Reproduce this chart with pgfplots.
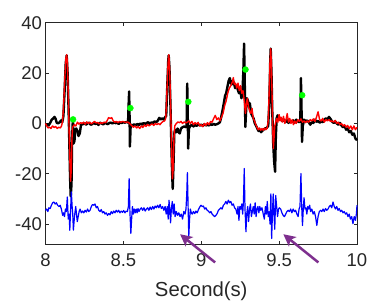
\documentclass[border=0pt]{standalone}
\usepackage{fontspec}
\setmainfont{Liberation Sans}
\usepackage{pgfplots}
\pgfplotsset{compat=1.18}
\usetikzlibrary{arrows.meta}
\definecolor{mpurple}{RGB}{126,47,142}
\definecolor{axgray}{RGB}{38,38,38}
\begin{document}
\begin{tikzpicture}
\begin{axis}[
 scale only axis, width=311.5pt, height=221.6pt,
 xmin=8, xmax=10, ymin=-48, ymax=40,
 xtick={8,8.5,9,9.5,10}, ytick={-40,-20,0,20,40},
 tick align=inside, major tick length=3pt,
 axis line style={axgray, line width=0.6pt},
 tick style={axgray, line width=0.6pt},
 ticklabel style={font=\fontsize{18.5}{20}\selectfont, text=axgray},
 /pgf/number format/assume math mode=true,
 xticklabel style={yshift=-6pt},
 xlabel={Second(s)},
 xlabel style={font=\fontsize{20.3}{22}\selectfont, text=axgray, at={(axis description cs:0.5,0)}, anchor=base, yshift=-52.4pt},
 clip=false,
 every axis plot/.append style={line join=round},
]
\addplot[black, line width=2.4pt, mark=none] coordinates {
(8.000,-0.5) (8.010,-0.3) (8.020,-0.8) (8.030,0.2) (8.040,1.5) (8.050,2.0) (8.058,2.6) (8.065,1.8) (8.072,0.3) (8.080,0.0) (8.090,0.4) (8.100,1.2) (8.108,0.5)
(8.115,3) (8.122,12) (8.130,24) (8.136,27) (8.142,20) (8.148,6) (8.153,-8) (8.158,-22) (8.162,-29) (8.167,-24) (8.171,-6) (8.175,0.5) (8.178,0) (8.180,-8) (8.186,-7) (8.190,-3) (8.197,-2) (8.205,-3) (8.212,-5) (8.220,-4) (8.228,-0.5)
(8.240,-0.3) (8.250,0.2) (8.260,-0.5) (8.270,0.0) (8.280,0.3) (8.290,-0.5) (8.300,-0.3) (8.310,0.2) (8.320,-0.2) (8.330,0.0) (8.340,-0.6) (8.350,0.3) (8.360,0.0) (8.370,-0.4) (8.380,0.2) (8.390,0.0) (8.400,-0.3) (8.410,0.2) (8.420,0.3) (8.430,0.0) (8.440,0.4) (8.450,0.1) (8.460,0.3) (8.470,-0.2) (8.480,0.4) (8.490,0.2) (8.500,0.5) (8.510,0.3) (8.520,0.6) (8.530,0.3)
(8.534,8) (8.537,12.7) (8.540,2) (8.542,-9.2) (8.546,-2) (8.550,-0.5)
(8.560,-0.8) (8.570,-0.3) (8.580,-0.8) (8.590,-0.2) (8.600,-0.6) (8.610,0.0) (8.620,-0.5) (8.630,0.2) (8.640,-0.3) (8.650,0.2) (8.660,0.5) (8.670,-0.3) (8.680,0.4) (8.690,0.2) (8.700,0.8) (8.710,0.5) (8.720,1.0) (8.730,2.2) (8.740,1.6) (8.750,2.0) (8.760,1.5) (8.768,2.5)
(8.775,3) (8.782,15) (8.788,25) (8.791,27) (8.796,22) (8.802,8) (8.808,-8) (8.813,-20) (8.817,-26) (8.822,-16) (8.827,-4) (8.832,-2.5) (8.840,-3.5) (8.848,-2) (8.855,-3.5) (8.862,-4) (8.870,-2) (8.880,-1.5) (8.890,-1.2) (8.900,-1.5)
(8.906,-1) (8.910,15.8) (8.913,5) (8.916,-10) (8.921,-2) (8.930,-1)
(8.940,-0.5) (8.950,-1.2) (8.960,-0.5) (8.970,-1) (8.980,-0.3) (8.990,-0.8) (9.000,-0.5) (9.010,-1.0) (9.020,-0.3) (9.030,-0.8) (9.040,-0.5) (9.050,-0.8) (9.060,-0.3) (9.070,-0.6) (9.080,-0.2) (9.090,-0.5) (9.100,-0.3) (9.110,0.0) (9.120,0.5)
(9.128,2.5) (9.136,5) (9.145,8) (9.153,11) (9.160,12) (9.168,14.5) (9.176,17) (9.184,18) (9.190,16) (9.196,15.5) (9.203,17) (9.210,16) (9.218,14) (9.226,15) (9.234,13.5) (9.242,12) (9.250,13.5) (9.258,10) (9.264,12) (9.270,20) (9.275,31.7) (9.279,18) (9.283,-1.4) (9.288,5) (9.293,10) (9.300,9) (9.306,7) (9.312,8) (9.320,4) (9.328,3) (9.336,2) (9.344,0) (9.352,-1) (9.360,-2) (9.368,-3) (9.376,-2.5) (9.384,-3.5) (9.392,-3) (9.400,-2.5) (9.410,-2.0) (9.420,-1.8) (9.430,-1)
(9.437,8) (9.443,25) (9.446,29.7) (9.451,20) (9.456,5) (9.462,-8) (9.468,-15) (9.474,-19.2) (9.479,-5) (9.484,2) (9.490,3.2) (9.497,2.5) (9.505,1.5) (9.512,2.0) (9.520,1.0) (9.530,1.5) (9.540,0.5) (9.550,1.3) (9.560,0.2) (9.570,1.0) (9.580,0.5) (9.590,1.2) (9.600,0.3) (9.610,1.5) (9.620,0.8) (9.630,0.5)
(9.636,1) (9.640,18) (9.644,5) (9.647,-7.3) (9.652,-1) (9.660,1.5)
(9.670,0.8) (9.680,1.2) (9.690,0.5) (9.700,-0.5) (9.710,0.5) (9.720,0.2) (9.730,1.5) (9.740,0.6) (9.750,1.0) (9.760,0.3) (9.770,0.8) (9.780,0.5) (9.790,1.5) (9.800,2.0) (9.810,1.5) (9.820,2.6) (9.830,1.8) (9.840,0.8) (9.850,0.2) (9.860,0.8) (9.870,0.0) (9.880,-0.5) (9.890,0.2) (9.900,-0.8) (9.910,-1.5) (9.920,-1.0) (9.930,-2.5) (9.940,-2.0) (9.950,-3.5) (9.960,-3.0) (9.970,-4.5) (9.980,-4.0) (9.990,-6.0) (10.000,-6.7)
};
\addplot[red, line width=1.4pt, mark=none] coordinates {
(8.000,0.0) (8.008,-1.0) (8.016,-1.8) (8.025,-1.5) (8.035,-2.0) (8.045,-1.0) (8.055,-1.6) (8.065,-1.2) (8.075,-2.0) (8.085,-1.5) (8.095,-1.8) (8.103,-1.0)
(8.110,1) (8.117,8) (8.124,18) (8.131,26) (8.136,27.3) (8.141,24) (8.146,12) (8.151,-1) (8.156,-14) (8.161,-23) (8.166,-18) (8.170,-6) (8.174,-1.5)
(8.185,-0.5) (8.195,-1) (8.205,0.5) (8.215,-0.3) (8.225,0.3) (8.235,0.0) (8.245,0.5) (8.255,-0.3) (8.265,0.6) (8.275,0.0) (8.285,0.5) (8.295,-0.2) (8.305,0.3) (8.315,0.8) (8.325,0.2) (8.335,0.4) (8.345,-0.2) (8.355,0.3) (8.365,0.0) (8.375,0.5) (8.385,0.3) (8.395,1.0) (8.405,2.3) (8.415,2.0) (8.425,2.3) (8.435,1.0) (8.445,0.5) (8.455,0.8) (8.465,0.3) (8.475,0.8) (8.485,0.5) (8.495,0.8) (8.505,0.6) (8.515,0.4) (8.525,0.6) (8.535,0.3) (8.545,-0.3) (8.555,-1.0) (8.565,-1.5) (8.575,-1.0) (8.585,-1.8) (8.595,-1.2) (8.605,-2.0) (8.615,-1.0) (8.625,-1.6) (8.635,-0.6) (8.645,-1.2) (8.655,-0.4) (8.665,-1.0) (8.675,-0.5) (8.685,-0.2) (8.695,-0.8) (8.705,0.0) (8.715,-0.5) (8.725,0.0) (8.735,-0.5) (8.745,0.3) (8.755,0.8) (8.765,1.0)
(8.772,2) (8.778,10) (8.784,20) (8.789,26) (8.792,27.3) (8.797,22) (8.802,10) (8.806,0) (8.810,-12) (8.815,-22) (8.820,-18) (8.825,-6) (8.830,-1)
(8.840,0.0) (8.850,0.6) (8.860,0.3) (8.870,0.8) (8.880,0.0) (8.890,0.6) (8.900,0.2) (8.910,0.5) (8.920,1.0) (8.930,0.0) (8.940,0.8) (8.950,-0.5) (8.960,0.3) (8.970,-0.3) (8.980,0.4) (8.990,-1.0) (9.000,-0.5) (9.010,-1.3) (9.020,0.0) (9.030,-0.8) (9.040,0.3) (9.050,-0.5) (9.060,0.8) (9.070,0.5) (9.080,2.0) (9.090,3.2) (9.100,1.5) (9.110,2.2) (9.120,1.0) (9.130,2.5)
(9.140,4) (9.150,7) (9.160,9) (9.170,12) (9.180,14) (9.190,15) (9.200,16.5) (9.206,18.2) (9.212,15.5) (9.220,16) (9.228,14) (9.236,16) (9.244,13) (9.252,15) (9.260,12) (9.268,13) (9.276,9) (9.284,4) (9.290,8) (9.296,10) (9.302,7) (9.310,5) (9.318,4) (9.326,6) (9.334,2) (9.342,1) (9.350,-0.5) (9.358,-1.5) (9.366,-2.5) (9.374,-1.8) (9.382,-2.7) (9.390,-2.0) (9.398,-2.7) (9.406,-1.8) (9.414,-2.5) (9.422,-2.0)
(9.430,1) (9.436,12) (9.441,24) (9.446,29.7) (9.450,24) (9.455,10) (9.459,-2) (9.463,-10) (9.467,-6) (9.472,-1) (9.478,0.5)
(9.485,2) (9.492,0.5) (9.500,3.5) (9.506,1) (9.512,2.5) (9.520,0.5) (9.528,2.8) (9.536,0.0) (9.544,1.5) (9.552,3.9) (9.560,0.5) (9.568,2.0) (9.576,0.0) (9.584,1.5) (9.592,-0.5) (9.600,1.0) (9.610,0.0) (9.620,1.5) (9.630,0.8) (9.640,1.8) (9.650,0.5) (9.660,1.0) (9.670,0.3) (9.680,1.0) (9.690,0.5) (9.700,1.5) (9.710,1.0) (9.720,1.8) (9.730,0.8) (9.740,2.5) (9.750,4.6) (9.760,1.5) (9.770,1.0) (9.780,2.0) (9.790,0.5) (9.800,1.5) (9.810,1.0) (9.820,1.5) (9.830,0.8) (9.840,1.0) (9.850,0.5) (9.860,1.2) (9.870,0.0) (9.880,0.5) (9.890,-0.5) (9.900,0.0) (9.910,-1.0) (9.920,-0.5) (9.930,-1.5) (9.940,-0.8) (9.950,-2.0) (9.960,-1.0) (9.970,-2.5) (9.980,-1.0) (9.990,-2.5) (10.000,-1.5)
};
\addplot[blue, line width=1.2pt, mark=none] coordinates {
(8.000,-34.5) (8.008,-34) (8.015,-35) (8.022,-33.5) (8.030,-33.8) (8.038,-32.5) (8.046,-31.5) (8.054,-31.2) (8.062,-32) (8.070,-31.5) (8.078,-32.5) (8.086,-33) (8.094,-32.5) (8.102,-34) (8.110,-36.5) (8.116,-35.5) (8.122,-37) (8.128,-34) (8.134,-35)
(8.140,-29.2) (8.146,-38) (8.152,-36) (8.156,-42.4) (8.160,-36) (8.166,-27.2) (8.171,-33) (8.175,-36) (8.179,-42.4) (8.186,-37) (8.194,-33) (8.199,-36) (8.204,-39) (8.210,-37) (8.216,-35) (8.222,-34)
(8.230,-35.5) (8.238,-34.8) (8.246,-35.5) (8.254,-34.5) (8.262,-35.2) (8.270,-34) (8.278,-35) (8.286,-34.5) (8.294,-33) (8.302,-32.2) (8.310,-32.5) (8.318,-32) (8.326,-33.5) (8.334,-33) (8.342,-34.5) (8.350,-35) (8.358,-34.2) (8.366,-35.5) (8.374,-35) (8.382,-36) (8.390,-35.5) (8.398,-36.5) (8.406,-35.8) (8.414,-36.3) (8.422,-35) (8.430,-35.8) (8.438,-34.8) (8.446,-35.5) (8.454,-34.5) (8.462,-35.2) (8.470,-34.5) (8.478,-35.5) (8.486,-34.8) (8.494,-35.3) (8.502,-34.6) (8.510,-35.5) (8.518,-34.8) (8.526,-35)
(8.532,-33) (8.537,-21.9) (8.542,-35) (8.548,-43.7) (8.553,-38) (8.558,-33) (8.564,-36) (8.570,-34) (8.576,-35.5) (8.582,-34) (8.588,-35.5) (8.594,-33.8) (8.600,-35) (8.608,-34) (8.616,-33.5) (8.624,-34.5) (8.632,-33.5) (8.640,-34.8) (8.648,-34) (8.656,-33.5) (8.664,-34.5) (8.672,-33.2) (8.680,-34.2) (8.688,-33) (8.696,-34) (8.704,-32.8) (8.712,-33.5) (8.720,-32.5) (8.728,-33.5) (8.736,-32.2) (8.744,-33.8) (8.752,-33) (8.760,-34.5) (8.768,-33)
(8.775,-36) (8.782,-33) (8.788,-38) (8.793,-30.5) (8.798,-34) (8.803,-39.5) (8.808,-34) (8.814,-31) (8.820,-36) (8.826,-32) (8.832,-37) (8.840,-35) (8.848,-36.5) (8.856,-35.5) (8.864,-37) (8.872,-36) (8.880,-38) (8.888,-35) (8.896,-36) (8.902,-34)
(8.907,-28) (8.911,-19.5) (8.916,-34) (8.920,-45) (8.925,-38) (8.930,-34) (8.936,-35.5) (8.942,-36) (8.950,-35) (8.958,-35.8) (8.966,-34.8) (8.974,-35.5) (8.982,-34.2) (8.990,-33.2) (8.998,-32.5) (9.006,-33) (9.014,-32.8) (9.022,-34) (9.030,-33.5) (9.038,-34.5) (9.046,-34.8) (9.054,-35.5) (9.062,-35) (9.070,-36) (9.078,-36.5) (9.086,-37) (9.094,-36.5) (9.102,-35.8) (9.110,-34.5) (9.118,-34) (9.126,-33.5) (9.134,-34) (9.142,-32.5) (9.150,-32) (9.158,-31) (9.166,-32) (9.174,-30.5) (9.182,-31.5) (9.190,-31) (9.198,-32.5) (9.206,-32) (9.214,-33.5) (9.222,-34)
(9.230,-36) (9.236,-33) (9.242,-38.5) (9.248,-33) (9.254,-34) (9.260,-32) (9.266,-36) (9.271,-31) (9.276,-17.9) (9.281,-34) (9.287,-43) (9.292,-36) (9.298,-33) (9.304,-39) (9.310,-34) (9.316,-32) (9.322,-37) (9.328,-35) (9.334,-33) (9.340,-36) (9.346,-31.5) (9.352,-37) (9.358,-34) (9.364,-33) (9.370,-35.5) (9.376,-33) (9.382,-34.5) (9.390,-33.5) (9.398,-36) (9.405,-38) (9.412,-33) (9.418,-36) (9.424,-31) (9.430,-37) (9.436,-35) (9.442,-40) (9.447,-28) (9.452,-45.7) (9.457,-36) (9.462,-28) (9.467,-36) (9.472,-42) (9.478,-28.6) (9.484,-33) (9.490,-37) (9.496,-34) (9.502,-33.5)
(9.510,-34) (9.518,-35.5) (9.526,-36.5) (9.534,-37) (9.542,-36) (9.550,-35) (9.558,-34.5) (9.566,-35) (9.574,-34) (9.582,-35.5) (9.590,-34) (9.598,-35) (9.606,-34.5) (9.614,-36) (9.622,-37) (9.628,-34) (9.634,-33)
(9.640,-19.9) (9.645,-33) (9.650,-40.5) (9.655,-34) (9.660,-29.5) (9.666,-34) (9.672,-33.5) (9.678,-36) (9.684,-33) (9.690,-34) (9.696,-32.5) (9.702,-35) (9.710,-34) (9.718,-36) (9.726,-35) (9.734,-37) (9.742,-40.5) (9.750,-37) (9.758,-35) (9.766,-34.5) (9.774,-35) (9.782,-34) (9.790,-35) (9.798,-33.8) (9.806,-34.5) (9.814,-34) (9.822,-33) (9.830,-32.5) (9.838,-33.5) (9.846,-31.2) (9.854,-33) (9.862,-34) (9.870,-33) (9.878,-34.5) (9.886,-33.8) (9.894,-35) (9.902,-34.5) (9.910,-35.5) (9.918,-35) (9.926,-36) (9.934,-35.5) (9.942,-37) (9.950,-36) (9.958,-38) (9.966,-37) (9.974,-39.8) (9.982,-37) (9.990,-38.5) (9.996,-36) (10.000,-32.5)
};
\addplot[only marks, mark=*, mark size=3pt, color={rgb,1:red,0;green,1;blue,0}] coordinates {
(8.177,1.6) (8.545,6.1) (8.917,8.6) (9.284,21.4) (9.648,11.2)
};
\draw[mpurple, line width=2.5pt, -{Stealth[length=12pt, width=12pt, inset=3pt]}] (axis cs:9.089,-55.2) -- (axis cs:8.864,-44);
\draw[mpurple, line width=2.5pt, -{Stealth[length=12pt, width=12pt, inset=3pt]}] (axis cs:9.752,-55.2) -- (axis cs:9.527,-44);
\end{axis}
\pgfresetboundingbox
\useasboundingbox (-45.5pt,-58.7pt) rectangle (343.5pt,244.3pt);
\end{tikzpicture}
\end{document}
